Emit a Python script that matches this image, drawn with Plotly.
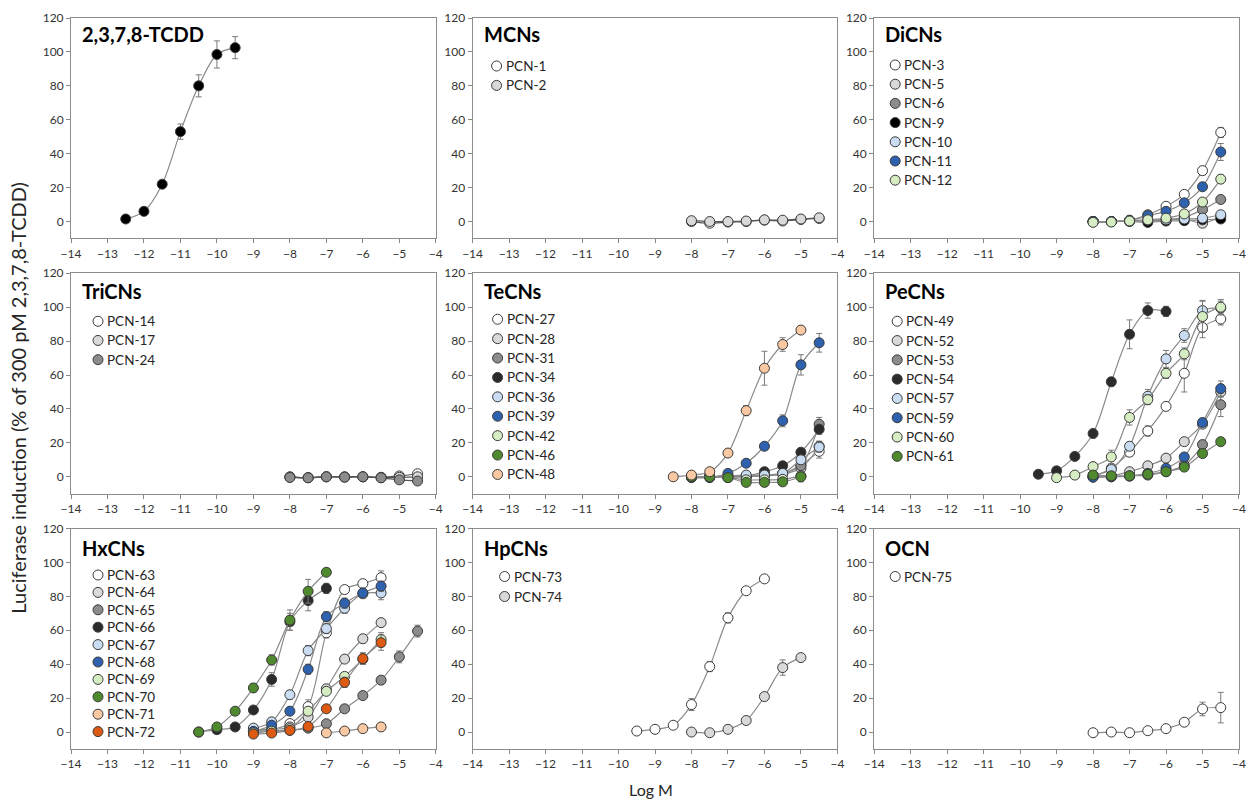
import plotly.graph_objects as go
from plotly.subplots import make_subplots

# ---------------- data ----------------
X_STD = [-8, -7.5, -7, -6.5, -6, -5.5, -5, -4.5]

# 2,3,7,8-TCDD
x_tcdd = [-12.5, -12, -11.5, -11, -10.5, -10, -9.5]
y_tcdd = [1.5, 6, 22, 53, 80, 98.5, 102.5]
e_tcdd = [1, 1, 1.5, 4.5, 6.5, 8, 6.5]

# MCNs
y_pcn1 = [0, -1, -0.3, 0, 0.8, 0.3, 1.2, 1.8]
e_pcn1 = [1, 1, 0.5, 0.5, 0.5, 0.8, 0.8, 1.2]
y_pcn2 = [0.5, 0, 0, 0.3, 1, 0.8, 1.5, 2.2]
e_pcn2 = [1, 0.8, 0.5, 0.5, 0.5, 0.8, 0.8, 1.2]

# DiCNs
y_pcn3 = [0, 0, 0.8, 4, 9, 16, 30, 52.5]
e_pcn3 = [0.5, 0.5, 0.5, 0.8, 1, 1.5, 2.5, 3]
y_pcn5 = [0, 0, 0.5, 0.5, 1, 1.5, -1, 3]
e_pcn5 = [0.5, 0.5, 0.5, 0.5, 0.5, 0.5, 0.8, 1]
y_pcn6 = [0, 0, 0.3, 0.5, 1, 2.5, 7, 13]
e_pcn6 = [0.5, 0.5, 0.5, 0.5, 0.5, 0.8, 1, 1.5]
y_pcn9 = [0, 0, 0, -0.5, 0.3, 0.5, 1, 1.5]
e_pcn9 = [0.5, 0.5, 0.5, 0.5, 0.5, 0.5, 0.5, 0.8]
y_pcn10 = [0, 0, 0.5, 0.8, 1, 1.5, 2, 4]
e_pcn10 = [0.5, 0.5, 0.5, 0.5, 0.5, 0.5, 0.8, 1]
y_pcn11 = [0, 0, 0.5, 3.5, 6, 11, 20.5, 41]
e_pcn11 = [0.5, 0.5, 0.5, 0.8, 1, 1.2, 1.5, 5]
y_pcn12 = [-0.5, -0.3, 0.3, 1, 2, 4.5, 11.5, 25]
e_pcn12 = [0.5, 0.5, 0.5, 0.5, 0.8, 1, 1.5, 2.5]

# TriCNs
y_pcn14 = [0, -0.5, 0, 0, 0, -0.3, 0.5, 1.8]
y_pcn17 = [-0.2, -0.5, 0, -0.2, 0, -0.5, -0.3, 0]
y_pcn24 = [-0.4, -0.6, 0, -0.2, 0, -0.6, -1.8, -2.5]
e_tri = [0.5, 0.5, 0.5, 0.5, 0.5, 0.5, 0.6, 0.8]

# TeCNs
x_pcn48 = [-8.5, -8, -7.5, -7, -6.5, -6, -5.5, -5]
y_pcn48 = [0, 1, 3, 14, 39, 64, 78, 86.5]
e_pcn48 = [0.5, 0.8, 1, 2, 3, 10, 4, 2]
y_pcn27 = [0, 0, 0, 0.5, 1, 2, 7, 15]
e_pcn27 = [0.5, 0.5, 0.5, 0.5, 0.5, 1, 1.5, 4]
y_pcn28 = [0, 0, 0, 0, 0.5, 1.5, 5, 18]
e_pcn28 = [0.5, 0.5, 0.5, 0.5, 0.5, 1, 1.5, 3]
y_pcn31 = [0, 0, 0, 0, 1, 2, 6.5, 31]
e_pcn31 = [0.5, 0.5, 0.5, 0.5, 0.5, 1, 1.5, 4]
y_pcn34 = [0, 0, 0, 0.5, 3, 6.5, 14.5, 28]
e_pcn34 = [0.5, 0.5, 0.5, 0.5, 0.8, 1, 1.5, 3]
y_pcn36 = [0, 0, 0.5, 1, 1, 2, 10, 17.5]
e_pcn36 = [0.5, 0.5, 0.5, 0.5, 0.5, 1, 2, 3]
y_pcn39 = [-0.5, -0.5, 2, 8, 18, 33, 66, 79]
e_pcn39 = [0.5, 0.5, 1, 1, 1, 3.5, 6, 5.5]
x_pcn42 = [-8, -7.5, -7, -6.5, -6, -5.5, -5]
y_pcn42 = [0, 0, -0.5, -1.8, -1.8, -1.5, 0.5]
e_pcn42 = [0.5, 0.5, 0.5, 1, 1, 1, 1.5]
y_pcn46 = [0, 0, -0.5, -3.3, -3.3, -3, 0]
e_pcn46 = [0.5, 0.5, 0.5, 1.5, 1.5, 1.5, 3]

# PeCNs
x_pcn54 = [-9.5, -9, -8.5, -8, -7.5, -7, -6.5, -6]
y_pcn54 = [1.5, 3.5, 12, 25.5, 56, 84, 98, 97.5]
e_pcn54 = [1, 1, 1, 2.5, 2.5, 8.5, 4.5, 3]
x_pcn60 = [-9, -8.5, -8, -7.5, -7, -6.5, -6, -5.5, -5, -4.5]
y_pcn60 = [-0.5, 1, 6, 11.7, 35, 45.5, 61, 72.5, 94.5, 100]
e_pcn60 = [1, 1, 1.5, 4, 4.5, 3, 3, 3.5, 9, 4.5]
y_pcn57 = [1, 4.3, 18, 47.5, 69.5, 83.3, 98, 99.5]
e_pcn57 = [1, 1.5, 2.5, 4, 5, 4, 6, 4]
y_pcn49 = [0, 5, 14.5, 27, 41.5, 61, 88, 93]
e_pcn49 = [1, 1, 2.5, 3, 2, 11, 6, 3.5]
y_pcn52 = [0, 0.5, 3, 6.5, 11, 20.7, 31, 50]
e_pcn52 = [0.5, 0.5, 0.8, 1, 1, 1.5, 2, 3]
y_pcn53 = [0, 0, 0.5, 1, 3, 7, 19, 42.5]
e_pcn53 = [0.5, 0.5, 0.5, 0.5, 0.8, 1, 1.5, 7]
y_pcn59 = [-0.3, 0, 0.4, 2, 5, 11.7, 32, 52]
e_pcn59 = [0.5, 0.5, 0.5, 0.8, 1, 1, 1.5, 4.5]
y_pcn61 = [1, 0.6, 0.6, 1.5, 3, 5.7, 13.7, 20.7]
e_pcn61 = [0.5, 0.5, 0.5, 0.5, 0.8, 1, 1, 1.5]

# HxCNs
x_pcn70 = [-10.5, -10, -9.5, -9, -8.5, -8, -7.5, -7]
y_pcn70 = [0, 3, 12.3, 26, 42.5, 66, 83, 94.2]
e_pcn70 = [0.5, 0.8, 1, 2.5, 3, 6, 7, 2]
y_pcn66 = [0, 1.4, 3, 13, 31, 65, 77.5, 84.7]
e_pcn66 = [0.5, 0.5, 1, 1.5, 4, 5, 6, 3]
x_hx = [-9, -8.5, -8, -7.5, -7, -6.5, -6, -5.5]
y_pcn63 = [1, 1.5, 5, 15, 58.5, 84, 87.5, 91]
e_pcn63 = [0.5, 0.5, 1, 4, 3, 2, 2, 4]
y_pcn64 = [1.5, 1.5, 3, 8.8, 25.5, 43, 55, 64.5]
e_pcn64 = [0.5, 0.5, 1, 1.5, 2, 2, 2.5, 2]
y_pcn67 = [2.3, 6, 22, 48, 61, 73, 81.5, 82]
e_pcn67 = [0.5, 1, 2.5, 3, 3, 3, 2, 4]
y_pcn68 = [0.4, 4, 12.3, 37, 68, 76, 82, 86]
e_pcn68 = [0.5, 1, 2, 3, 3, 3, 3, 3]
y_pcn69 = [-0.5, 0.5, 2, 12.3, 24, 32.8, 43, 54.6]
e_pcn69 = [0.5, 0.5, 0.8, 1, 1.5, 2, 3, 4]
y_pcn72 = [-1.2, -0.6, 1, 3.3, 13.7, 29.3, 43.3, 52.7]
e_pcn72 = [0.5, 0.5, 1, 1, 2, 3, 3.5, 4.5]
x_pcn65 = [-9, -8.5, -8, -7.5, -7, -6.5, -6, -5.5, -5, -4.5]
y_pcn65 = [0.5, 0.5, 1, 2.3, 4.9, 13.7, 21.5, 30.6, 44.3, 59.5]
e_pcn65 = [0.5, 0.5, 0.5, 0.5, 0.8, 1, 1.5, 2, 3.5, 3.5]
x_pcn71 = [-7, -6.5, -6, -5.5]
y_pcn71 = [-0.5, 0.6, 2, 3]
e_pcn71 = [0.5, 0.5, 0.5, 0.5]

# HpCNs
x_pcn73 = [-9.5, -9, -8.5, -8, -7.5, -7, -6.5, -6]
y_pcn73 = [0.6, 1.6, 4, 16.2, 38.6, 67.3, 83.3, 90.3]
e_pcn73 = [0.5, 0.5, 0.8, 3.5, 3, 3, 1.5, 2]
x_pcn74 = [-8, -7.5, -7, -6.5, -6, -5.5, -5]
y_pcn74 = [0, -0.4, 1.6, 6.8, 20.9, 38, 43.9]
e_pcn74 = [0.5, 0.5, 0.5, 1, 1.5, 4.5, 2]

# OCN
y_pcn75 = [-0.4, 0, -0.4, 0.8, 2, 5.8, 13.6, 14.4]
e_pcn75 = [0.5, 0.5, 0.5, 0.5, 0.8, 2, 4, 9]

panel_titles = ["2,3,7,8-TCDD", "MCNs", "DiCNs", "TriCNs", "TeCNs", "PeCNs",
                "HxCNs", "HpCNs", "OCN"]

x_ticks = [-14, -13, -12, -11, -10, -9, -8, -7, -6, -5, -4]
y_ticks = [0, 20, 40, 60, 80, 100, 120]

# ---------------- styling ----------------
WHITE = "#FFFFFF"
LGREY = "#D9D9D9"
GREY = "#8C8C8C"
DARK = "#2B2B2B"
LBLUE = "#C9DCF2"
BLUE = "#2F62AE"
LGREEN = "#D6ECC2"
GREEN = "#4F8A2F"
PEACH = "#FAC9A4"
ORANGE = "#DD5A12"
BLACK = "#000000"

# (panel index, name, x, y, err, fill colour)
series = [
    (1, "2,3,7,8-TCDD", x_tcdd, y_tcdd, e_tcdd, BLACK),
    (2, "PCN-1", X_STD, y_pcn1, e_pcn1, WHITE),
    (2, "PCN-2", X_STD, y_pcn2, e_pcn2, LGREY),
    (3, "PCN-3", X_STD, y_pcn3, e_pcn3, WHITE),
    (3, "PCN-5", X_STD, y_pcn5, e_pcn5, LGREY),
    (3, "PCN-6", X_STD, y_pcn6, e_pcn6, GREY),
    (3, "PCN-9", X_STD, y_pcn9, e_pcn9, BLACK),
    (3, "PCN-10", X_STD, y_pcn10, e_pcn10, LBLUE),
    (3, "PCN-11", X_STD, y_pcn11, e_pcn11, BLUE),
    (3, "PCN-12", X_STD, y_pcn12, e_pcn12, LGREEN),
    (4, "PCN-14", X_STD, y_pcn14, e_tri, WHITE),
    (4, "PCN-17", X_STD, y_pcn17, e_tri, LGREY),
    (4, "PCN-24", X_STD, y_pcn24, e_tri, GREY),
    (5, "PCN-27", X_STD, y_pcn27, e_pcn27, WHITE),
    (5, "PCN-28", X_STD, y_pcn28, e_pcn28, LGREY),
    (5, "PCN-31", X_STD, y_pcn31, e_pcn31, GREY),
    (5, "PCN-34", X_STD, y_pcn34, e_pcn34, DARK),
    (5, "PCN-36", X_STD, y_pcn36, e_pcn36, LBLUE),
    (5, "PCN-39", X_STD, y_pcn39, e_pcn39, BLUE),
    (5, "PCN-42", x_pcn42, y_pcn42, e_pcn42, LGREEN),
    (5, "PCN-46", x_pcn42, y_pcn46, e_pcn46, GREEN),
    (5, "PCN-48", x_pcn48, y_pcn48, e_pcn48, PEACH),
    (6, "PCN-49", X_STD, y_pcn49, e_pcn49, WHITE),
    (6, "PCN-52", X_STD, y_pcn52, e_pcn52, LGREY),
    (6, "PCN-53", X_STD, y_pcn53, e_pcn53, GREY),
    (6, "PCN-54", x_pcn54, y_pcn54, e_pcn54, DARK),
    (6, "PCN-57", X_STD, y_pcn57, e_pcn57, LBLUE),
    (6, "PCN-59", X_STD, y_pcn59, e_pcn59, BLUE),
    (6, "PCN-60", x_pcn60, y_pcn60, e_pcn60, LGREEN),
    (6, "PCN-61", X_STD, y_pcn61, e_pcn61, GREEN),
    (7, "PCN-63", x_hx, y_pcn63, e_pcn63, WHITE),
    (7, "PCN-64", x_hx, y_pcn64, e_pcn64, LGREY),
    (7, "PCN-65", x_pcn65, y_pcn65, e_pcn65, GREY),
    (7, "PCN-66", x_pcn70, y_pcn66, e_pcn66, DARK),
    (7, "PCN-67", x_hx, y_pcn67, e_pcn67, LBLUE),
    (7, "PCN-68", x_hx, y_pcn68, e_pcn68, BLUE),
    (7, "PCN-69", x_hx, y_pcn69, e_pcn69, LGREEN),
    (7, "PCN-70", x_pcn70, y_pcn70, e_pcn70, GREEN),
    (7, "PCN-71", x_pcn71, y_pcn71, e_pcn71, PEACH),
    (7, "PCN-72", x_hx, y_pcn72, e_pcn72, ORANGE),
    (8, "PCN-73", x_pcn73, y_pcn73, e_pcn73, WHITE),
    (8, "PCN-74", x_pcn74, y_pcn74, e_pcn74, LGREY),
    (9, "PCN-75", X_STD, y_pcn75, e_pcn75, WHITE),
]

W, H = 1256, 805
ML, MR, MT, MB = 71, 10, 13, 56
PW, PH = W - ML - MR, H - MT - MB
HS, VS = 37 / PW, 35 / PH

fig = make_subplots(rows=3, cols=3, horizontal_spacing=HS, vertical_spacing=VS)

FONT = "Lato, 'Open Sans', sans-serif"
low_panels = {2, 4}
MK_LINE = "#3A3A3A"

for p, name, xs, ys, es, col in series:
    r, c = (p - 1) // 3 + 1, (p - 1) % 3 + 1
    line_col = "#555555" if p in low_panels else "#8A8A8A"
    fig.add_trace(go.Scatter(
        x=xs, y=ys, mode="lines+markers", name=name, showlegend=False,
        line=dict(color=line_col, width=1.2, shape="spline", smoothing=0.9),
        marker=dict(size=10, color=col, line=dict(color=MK_LINE, width=1)),
        error_y=dict(type="data", array=es, visible=True, color="#7A7A7A",
                     thickness=1, width=3),
    ), row=r, col=c)

for i in range(1, 10):
    r, c = (i - 1) // 3 + 1, (i - 1) % 3 + 1
    fig.update_xaxes(range=[-14, -4], tickvals=x_ticks, ticks="outside", ticklen=4,
                     tickcolor="#888888", showline=True, mirror=True,
                     linecolor="#8C8C8C", linewidth=1, showgrid=False, zeroline=False,
                     tickfont=dict(size=12, color="#333333", family=FONT),
                     row=r, col=c)
    fig.update_yaxes(range=[-10, 120], tickvals=y_ticks, ticks="outside", ticklen=4,
                     tickcolor="#888888", showline=True, mirror=True,
                     linecolor="#8C8C8C", linewidth=1, showgrid=False, zeroline=False,
                     tickfont=dict(size=12, color="#333333", family=FONT),
                     row=r, col=c)

# panel titles (pixel offset of title centre below the panel top)
title_off = {1: 20, 2: 20, 3: 20, 4: 22, 5: 22, 6: 22, 7: 23, 8: 23, 9: 23}
for i, t in enumerate(panel_titles, start=1):
    ax = "" if i == 1 else str(i)
    fig.add_annotation(text=f"<b>{t}</b>", xref=f"x{ax} domain", yref=f"y{ax} domain",
                       x=0, y=1, xanchor="left", yanchor="middle", xshift=9,
                       yshift=-title_off[i] + 4,
                       showarrow=False, font=dict(size=20, color="#000000", family=FONT))

# per-panel legends: marker x offset, first-entry offset, entry spacing (px)
legend_geom = {2: (24, 48, 19.4), 3: (21, 47, 19.2), 4: (27, 48, 19.2),
               5: (25, 46, 19.4), 6: (23, 48, 19.3), 7: (27, 46.5, 17.4),
               8: (32, 48, 20), 9: (21, 48, 19)}
count = {}
for p, name, xs, ys, es, col in series:
    if p == 1:
        continue
    k = count.get(p, 0)
    count[p] = k + 1
    ax = str(p)
    mx, y0, dy = legend_geom[p]
    yc = -(y0 + k * dy)
    fig.add_shape(type="circle", xref=f"x{ax} domain", yref=f"y{ax} domain",
                  xsizemode="pixel", ysizemode="pixel", xanchor=0, yanchor=1,
                  x0=mx - 5, x1=mx + 5, y0=yc - 5, y1=yc + 5,
                  fillcolor=col, line=dict(color=MK_LINE, width=1), layer="above")
    fig.add_annotation(text=name, xref=f"x{ax} domain", yref=f"y{ax} domain",
                       x=0, y=1, xanchor="left", yanchor="middle",
                       xshift=mx + 7, yshift=yc, showarrow=False,
                       font=dict(size=13.5, color="#262626", family=FONT))

fig.add_annotation(text="Luciferase induction (% of 300 pM 2,3,7,8-TCDD)",
                   xref="paper", yref="paper", x=-53 / PW, y=(749 - 395) / PH,
                   textangle=-90, xanchor="center", yanchor="middle", showarrow=False,
                   font=dict(size=20, color="#262626", family=FONT))
fig.add_annotation(text="Log M", xref="paper", yref="paper", x=0.497, y=-41 / PH,
                   xanchor="center", yanchor="middle", showarrow=False,
                   font=dict(size=16, color="#262626", family=FONT))

fig.update_layout(width=W, height=H, margin=dict(l=ML, r=MR, t=MT, b=MB),
                  plot_bgcolor="white", paper_bgcolor="white", showlegend=False,
                  font=dict(family=FONT))

fig.write_html("out.html", config={"displayModeBar": False},
               post_script="document.body.style.margin='0';")
